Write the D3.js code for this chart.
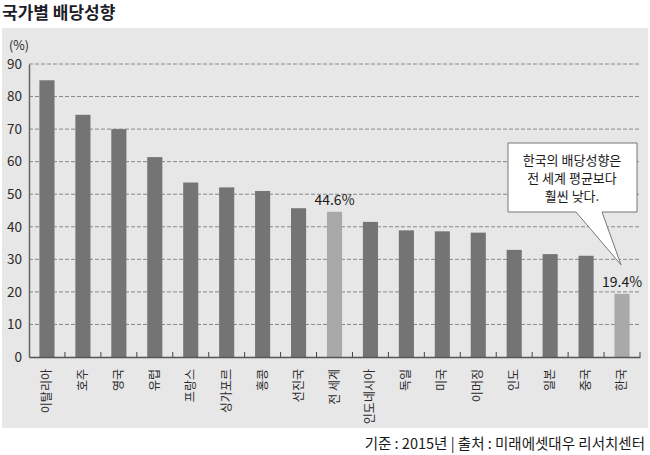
<!DOCTYPE html>
<html>
<head>
<meta charset="utf-8">
<script src="https://cdn.jsdelivr.net/npm/d3@7"></script>
<style>
  body { margin: 0; background: #fff; }
  svg { display: block; font-family: "Noto Sans CJK KR", "Noto Sans", sans-serif; }
</style>
</head>
<body>
<div id="chart"></div>
<script>
// Data
const countries = ['이탈리아', '호주', '영국', '유럽', '프랑스', '싱가포르', '홍콩', '선진국', '전 세계',
    '인도네시아', '독일', '미국', '이머징', '인도', '일본', '중국', '한국'];
const payout = [85.0, 74.4, 70.0, 61.4, 53.6, 52.1, 51.0, 45.7, 44.6, 41.5, 38.9, 38.6, 38.2, 32.9, 31.6, 31.1, 19.4];
const highlighted = ['전 세계', '한국'];
const yTicks = [0, 10, 20, 30, 40, 50, 60, 70, 80, 90];
const title = '국가별 배당성향';
const source = '기준 : 2015년 | 출처 : 미래에셋대우 리서치센터';
const calloutLines = ['한국의 배당성향은', '전 세계 평균보다', '훨씬 낮다.'];

const data = countries.map((c, i) => ({ country: c, value: payout[i] }));

const width = 650;
const height = 455;
const margin = { top: 64, right: 10, bottom: 98, left: 29 };

const svg = d3.select('#chart').append('svg')
    .attr('width', width)
    .attr('height', height);

// Title
svg.append('text')
    .attr('x', 2)
    .attr('y', 19)
    .attr('font-size', 17)
    .attr('font-weight', 'bold')
    .attr('fill', '#1e1e28')
    .text(title);

// Grey panel
svg.append('rect')
    .attr('x', 2)
    .attr('y', 28)
    .attr('width', 646)
    .attr('height', 400)
    .attr('fill', '#e7e7e7');

const chartHeight = 357 - margin.top;

const g = svg.append('g')
    .attr('transform', `translate(${margin.left},${margin.top})`);

// Scales
const xScale = d3.scaleBand()
    .domain(countries)
    .range([0, 611])
    .paddingInner(0.58)
    .paddingOuter(0.29);

const yScale = d3.scaleLinear()
    .domain([0, 90])
    .range([chartHeight, 0]);

// Grid lines
g.selectAll('.grid')
    .data(yTicks.filter(d => d > 0))
    .enter()
    .append('line')
    .attr('class', 'grid')
    .attr('x1', 0)
    .attr('x2', 611)
    .attr('y1', d => yScale(d))
    .attr('y2', d => yScale(d))
    .attr('stroke', '#888')
    .attr('stroke-width', 1)
    .attr('stroke-dasharray', '4,2');

// Y axis
const yAxis = d3.axisLeft(yScale).tickValues(yTicks).tickSize(0).tickPadding(7);
const yG = g.append('g').call(yAxis);
yG.select('.domain').attr('stroke', '#666').attr('stroke-width', 1.5);
yG.selectAll('text')
    .attr('font-size', 13.5)
    .attr('fill', '#2a2a2a')
    .attr('font-family', '"Noto Sans CJK KR", sans-serif');

g.append('text')
    .attr('x', -20)
    .attr('y', -14)
    .attr('font-size', 12.5)
    .attr('fill', '#2a2a2a')
    .text('(%)');

// Bars
g.selectAll('.bar')
    .data(data)
    .enter()
    .append('rect')
    .attr('class', 'bar')
    .attr('x', d => xScale(d.country))
    .attr('y', d => yScale(d.value))
    .attr('width', xScale.bandwidth())
    .attr('height', d => chartHeight - yScale(d.value))
    .attr('fill', d => highlighted.includes(d.country) ? '#a9a9a9' : '#747474');

// X axis with ticks between bands
const xAxis = d3.axisBottom(xScale).tickSize(0).tickPadding(0);
const xG = g.append('g')
    .attr('transform', `translate(0,${chartHeight})`)
    .call(xAxis);
xG.select('.domain').attr('stroke', '#555').attr('stroke-width', 1.5);
xG.selectAll('text')
    .attr('font-size', 12)
    .attr('fill', '#2a2a2a')
    .attr('font-family', '"Noto Sans CJK KR", sans-serif')
    .attr('text-anchor', 'end')
    .attr('dy', null)
    .attr('y', 0)
    .attr('transform', 'translate(4,12) rotate(-90)');

g.selectAll('.sep')
    .data(countries)
    .enter()
    .append('line')
    .attr('class', 'sep')
    .attr('x1', d => xScale(d) + xScale.bandwidth() / 2 + xScale.step() / 2)
    .attr('x2', d => xScale(d) + xScale.bandwidth() / 2 + xScale.step() / 2)
    .attr('y1', chartHeight)
    .attr('y2', chartHeight - 5)
    .attr('stroke', '#444')
    .attr('stroke-width', 1);

// Value labels for highlighted bars
g.selectAll('.value-label')
    .data(data.filter(d => highlighted.includes(d.country)))
    .enter()
    .append('text')
    .attr('class', 'value-label')
    .attr('x', d => xScale(d.country) + xScale.bandwidth() / 2)
    .attr('y', d => yScale(d.value) - 7)
    .attr('text-anchor', 'middle')
    .attr('font-size', 14)
    .attr('fill', '#1a1a1a')
    .text(d => d.value.toFixed(1) + '%');

// Callout
const korea = data[data.length - 1];
const tipX = xScale(korea.country) + xScale.bandwidth() / 2 + margin.left - 1;
const tipY = yScale(korea.value) + margin.top - 29;
const box = { x0: 508, x1: 637, y0: 143, y1: 212 };
svg.append('path')
    .attr('d', `M${box.x0},${box.y0} H${box.x1} V${box.y1} H602 L${tipX},${tipY} L576,${box.y1} H${box.x0} Z`)
    .attr('fill', '#fff')
    .attr('stroke', '#777')
    .attr('stroke-width', 1);

svg.selectAll('.callout')
    .data(calloutLines)
    .enter()
    .append('text')
    .attr('class', 'callout')
    .attr('x', 572)
    .attr('y', (d, i) => 165 + i * 18)
    .attr('text-anchor', 'middle')
    .attr('font-size', 13)
    .attr('fill', '#1a1a1a')
    .text(d => d);

// Source
svg.append('text')
    .attr('x', 645)
    .attr('y', 449)
    .attr('text-anchor', 'end')
    .attr('font-size', 14.5)
    .attr('fill', '#1a1a1a')
    .text(source);
</script>
</body>
</html>
